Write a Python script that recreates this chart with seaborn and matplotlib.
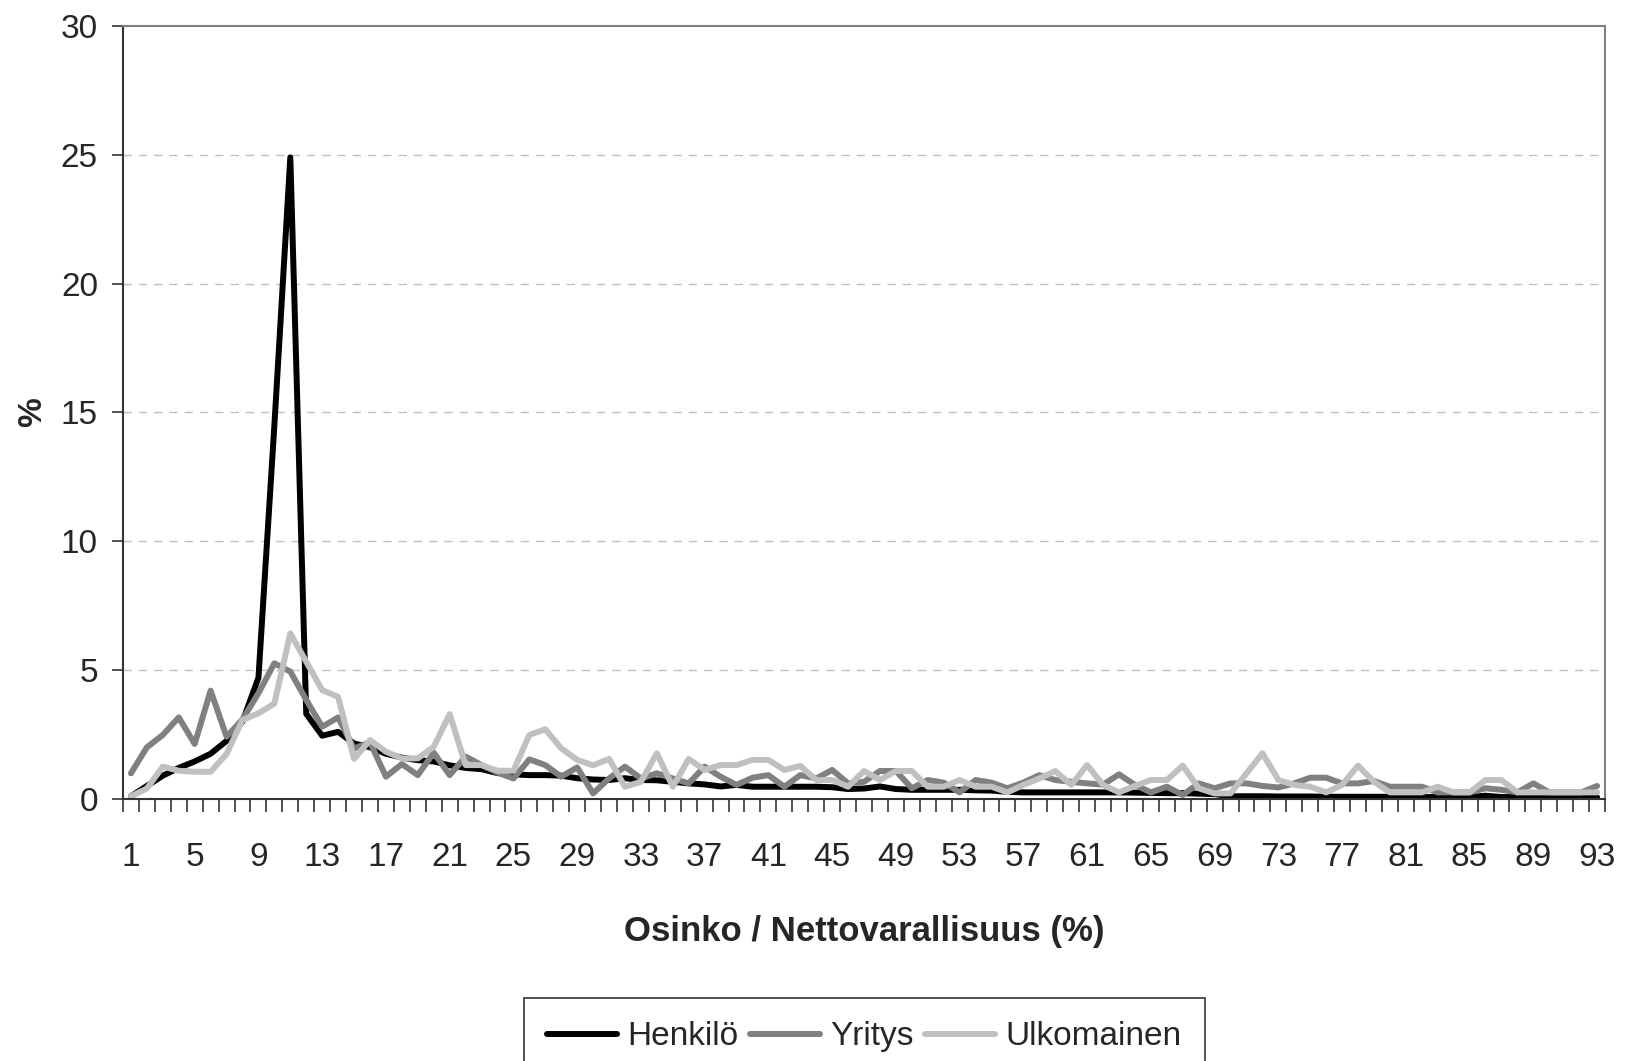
import matplotlib
matplotlib.use("Agg")
import matplotlib.pyplot as plt
import seaborn as sns
import pandas as pd
import numpy as np
from matplotlib.lines import Line2D

categories = list(range(1, 94))
tick_labels = [str(v) for v in range(1, 94, 4)]
series_names = ["Henkilö", "Yritys", "Ulkomainen"]

henkilo = [0.1, 0.5, 0.9, 1.2, 1.45, 1.75, 2.25, 3.0, 4.7, 14.5,
           24.9, 3.3, 2.45, 2.6, 2.15, 2.0, 1.75, 1.6, 1.5, 1.45,
           1.3, 1.2, 1.15, 1.0, 0.95, 0.92, 0.92, 0.9, 0.8, 0.75,
           0.73, 0.8, 0.73, 0.72, 0.66, 0.6, 0.56, 0.48, 0.54, 0.47,
           0.47, 0.47, 0.47, 0.47, 0.45, 0.38, 0.4, 0.48, 0.38, 0.35,
           0.35, 0.35, 0.35, 0.33, 0.32, 0.27, 0.25, 0.25, 0.25, 0.25,
           0.25, 0.25, 0.25, 0.24, 0.23, 0.22, 0.22, 0.2, 0.18, 0.1,
           0.1, 0.1, 0.09, 0.09, 0.09, 0.08, 0.08, 0.08, 0.08, 0.08,
           0.08, 0.07, 0.07, 0.07, 0.07, 0.12, 0.07, 0.07, 0.06, 0.06,
           0.06, 0.06, 0.06]

yritys = [0.99, 2.0, 2.48, 3.16, 2.13, 4.2, 2.41, 3.08, 4.1, 5.26,
          4.94, 3.84, 2.8, 3.16, 1.95, 2.2, 0.86, 1.35, 0.92, 1.79,
          0.92, 1.64, 1.31, 1.02, 0.79, 1.53, 1.31, 0.86, 1.22, 0.21,
          0.79, 1.25, 0.79, 0.99, 0.79, 0.6, 1.25, 0.86, 0.54, 0.82,
          0.92, 0.47, 0.92, 0.79, 1.12, 0.6, 0.66, 1.08, 1.08, 0.41,
          0.73, 0.63, 0.25, 0.73, 0.63, 0.41, 0.63, 0.92, 0.73, 0.66,
          0.6, 0.55, 0.95, 0.54, 0.25, 0.47, 0.15, 0.6, 0.41, 0.6,
          0.6, 0.5, 0.44, 0.6, 0.82, 0.82, 0.6, 0.6, 0.69, 0.47,
          0.47, 0.47, 0.25, 0.25, 0.25, 0.41, 0.35, 0.25, 0.6, 0.25,
          0.25, 0.25, 0.5]

ulkomainen = [0.1, 0.4, 1.25, 1.09, 1.05, 1.05, 1.74, 3.06, 3.32, 3.7,
              6.42, 5.32, 4.22, 3.96, 1.55, 2.28, 1.83, 1.57, 1.57, 2.02,
              3.29, 1.31, 1.31, 1.09, 1.09, 2.48, 2.7, 1.96, 1.51, 1.3,
              1.55, 0.47, 0.66, 1.77, 0.47, 1.55, 1.12, 1.31, 1.31, 1.51,
              1.51, 1.12, 1.28, 0.73, 0.73, 0.47, 1.08, 0.73, 1.08, 1.08,
              0.47, 0.47, 0.73, 0.47, 0.47, 0.25, 0.54, 0.79, 1.08, 0.54,
              1.31, 0.54, 0.25, 0.5, 0.73, 0.73, 1.29, 0.41, 0.21, 0.21,
              0.99, 1.77, 0.73, 0.54, 0.47, 0.25, 0.54, 1.29, 0.66, 0.25,
              0.25, 0.25, 0.47, 0.25, 0.25, 0.73, 0.73, 0.25, 0.25, 0.25,
              0.25, 0.25, 0.25]

colors = ["#000000", "#808080", "#c0c0c0"]

df = pd.DataFrame({
    "x": categories * 3,
    "value": henkilo + yritys + ulkomainen,
    "series": [series_names[0]] * 93 + [series_names[1]] * 93 + [series_names[2]] * 93,
})

sns.set_style("white")
plt.rcParams["font.family"] = ["Liberation Sans", "DejaVu Sans"]

fig = plt.figure(figsize=(16.31, 10.61), dpi=100)
ax = fig.add_axes([0.0754, 0.2471, 0.9087, 0.7284])

sns.lineplot(data=df, x="x", y="value", hue="series", hue_order=series_names,
             palette=colors, linewidth=4.3, errorbar=None, ax=ax, legend=False,
             sort=False)

ax.set_xlim(0.5, 93.5)
ax.set_ylim(0, 30)

# y axis
ax.set_yticks(range(0, 31, 5))
ax.set_yticklabels([str(v) for v in range(0, 31, 5)], fontsize=24)
for v in range(5, 30, 5):
    ax.axhline(v, color="#c0c0c0", linestyle=(0, (6, 5)), linewidth=1.0, zorder=0)

# x axis: tick marks at category boundaries, labels every 4th category
ax.set_xticks(np.arange(0.5, 94, 1.0))
ax.set_xticklabels([])
ax.set_xticks(list(range(1, 94, 4)), minor=True)
ax.set_xticklabels(tick_labels, minor=True, fontsize=24)
ax.tick_params(axis="x", which="major", direction="out", length=9, width=1.2,
               color="#333333", bottom=True)
ax.tick_params(axis="x", which="minor", length=0, pad=31)
ax.tick_params(axis="y", which="major", direction="out", length=8, width=1.2,
               color="#333333", left=True, pad=10)

for side in ["left", "bottom"]:
    ax.spines[side].set_color("#333333")
    ax.spines[side].set_linewidth(1.5)
for side in ["right", "top"]:
    ax.spines[side].set_visible(True)
    ax.spines[side].set_color("#808080")
    ax.spines[side].set_linewidth(1.5)

ax.set_xlabel("Osinko / Nettovarallisuus (%)", fontsize=25, fontweight="bold",
              labelpad=30)
ax.set_ylabel("%", fontsize=24, fontweight="bold", labelpad=9)

handles = [Line2D([0], [0], color=c, linewidth=4.3) for c in colors]
leg = fig.legend(handles, series_names, loc="upper center",
                 bbox_to_anchor=(0.530, 0.0594), ncol=3, frameon=True,
                 fancybox=False, edgecolor="black", fontsize=24,
                 handlelength=2.1, handletextpad=0.3, columnspacing=0.35,
                 borderpad=0.7, borderaxespad=0.0)
leg.get_frame().set_linewidth(1.2)

fig.savefig("out.png", dpi=100)
